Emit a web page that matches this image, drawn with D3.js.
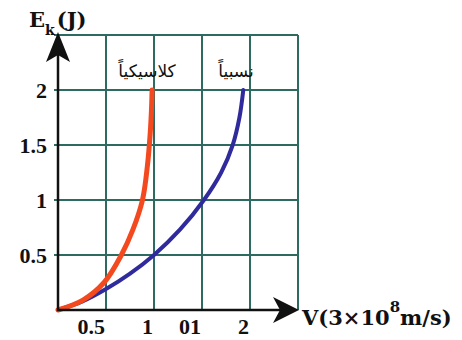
<!DOCTYPE html>
<html>
<head>
<meta charset="utf-8">
<script src="https://cdn.jsdelivr.net/npm/d3@7"></script>
<style>
  body { margin: 0; background: #fff; }
  .num { font-family: "Liberation Serif", serif; font-weight: bold; font-size: 22px; fill: #111; }
  .title { font-family: "DejaVu Serif", serif; font-weight: bold; font-size: 21px; fill: #111; }
  .ar { font-family: "DejaVu Sans", sans-serif; font-size: 17px; fill: #111; }
</style>
</head>
<body>
<div class="chart"></div>
<script>
// ticks
var xTickValues = [0.5, 1, 1.5, 2];
var xTickLabels = ["0.5", "1", "01", "2"];
var yTickValues = [0.5, 1, 1.5, 2];
var yTickLabels = ["0.5", "1", "1.5", "2"];
var gridValues = [0.5, 1, 1.5, 2, 2.5];

// classical curve (orange)
var classicalV = [0, 0.26, 0.48, 0.66, 0.78, 0.88, 0.93, 0.96, 0.975, 0.98];
var classicalE = [0, 0.09, 0.25, 0.5, 0.73, 1.0, 1.3, 1.6, 1.85, 2.0];

// relativistic curve (blue)
var relativV = [0, 0.26, 0.5, 0.75, 1.0, 1.27, 1.52, 1.7, 1.82, 1.89, 1.93];
var relativE = [0, 0.08, 0.19, 0.33, 0.5, 0.73, 1.0, 1.25, 1.5, 1.75, 2.0];

var svgWidth = 462;
var svgHeight = 340;

var svg = d3.select(".chart")
  .append("svg")
  .attr("width", svgWidth)
  .attr("height", svgHeight);

var x = d3.scaleLinear().domain([0, 2.5]).range([58, 298]);
var y = d3.scaleLinear().domain([0, 2.5]).range([310, 35]);

// grid
var grid = svg.append("g").attr("stroke", "#2d6b60").attr("stroke-width", 2);
grid.selectAll(".vg").data(gridValues).enter().append("line")
  .attr("x1", d => x(d)).attr("x2", d => x(d))
  .attr("y1", y(0)).attr("y2", y(2.5));
grid.selectAll(".hg").data(gridValues).enter().append("line")
  .attr("x1", x(0) - 4).attr("x2", x(2.5))
  .attr("y1", d => y(d)).attr("y2", d => y(d));

// curves
var line = d3.line().x(d => x(d[0])).y(d => y(d[1])).curve(d3.curveCatmullRom.alpha(0.5));

svg.append("path")
  .datum(relativV.map((v, i) => [v, relativE[i]]))
  .attr("d", line)
  .attr("fill", "none")
  .attr("stroke", "#2f2b9c")
  .attr("stroke-width", 4)
  .attr("stroke-linecap", "round");

svg.append("path")
  .datum(classicalV.map((v, i) => [v, classicalE[i]]))
  .attr("d", line)
  .attr("fill", "none")
  .attr("stroke", "#f4481f")
  .attr("stroke-width", 5)
  .attr("stroke-linecap", "round");

// axes with arrows
var ax = svg.append("g").attr("stroke", "#111").attr("stroke-width", 2.5);
ax.append("line").attr("x1", x(0)).attr("x2", x(0)).attr("y1", y(0) + 1).attr("y2", 55);
ax.append("line").attr("x1", x(0) - 1).attr("x2", 280).attr("y1", y(0)).attr("y2", y(0));
svg.append("path")
  .attr("d", `M${x(0)},32 L${x(0) - 12},62 L${x(0)},55 L${x(0) + 12},62 Z`)
  .attr("fill", "#111");
svg.append("path")
  .attr("d", `M299,${y(0)} L273,${y(0) - 13} L280,${y(0)} L273,${y(0) + 13} Z`)
  .attr("fill", "#111");

// tick labels
svg.selectAll(".xl").data(xTickValues).enter().append("text")
  .attr("class", "num")
  .attr("x", d => x(d) - 1)
  .attr("y", 334)
  .attr("text-anchor", "end")
  .text((d, i) => xTickLabels[i]);

svg.selectAll(".yl").data(yTickValues).enter().append("text")
  .attr("class", "num")
  .attr("x", 47)
  .attr("y", d => y(d) + 8)
  .attr("text-anchor", "end")
  .text((d, i) => yTickLabels[i]);

// axis titles
var yt = svg.append("text").attr("class", "title").attr("x", 29).attr("y", 27);
yt.append("tspan").text("E");
yt.append("tspan").attr("font-size", "14px").attr("dy", 8).text("k");
yt.append("tspan").attr("dy", -8).attr("dx", 2).text("(J)");

var xt = svg.append("text").attr("class", "title").attr("x", 302).attr("y", 325);
xt.append("tspan").text("V(3×10");
xt.append("tspan").attr("font-size", "15px").attr("dy", -13).text("8");
xt.append("tspan").attr("dy", 13).text("m/s)");

// curve labels
svg.append("text").attr("class", "ar").attr("x", 147).attr("y", 77)
  .attr("text-anchor", "middle").attr("direction", "rtl").text("كلاسيكياً");
svg.append("text").attr("class", "ar").attr("x", 236).attr("y", 77)
  .attr("text-anchor", "middle").attr("direction", "rtl").text("نسبياً");
</script>
</body>
</html>
